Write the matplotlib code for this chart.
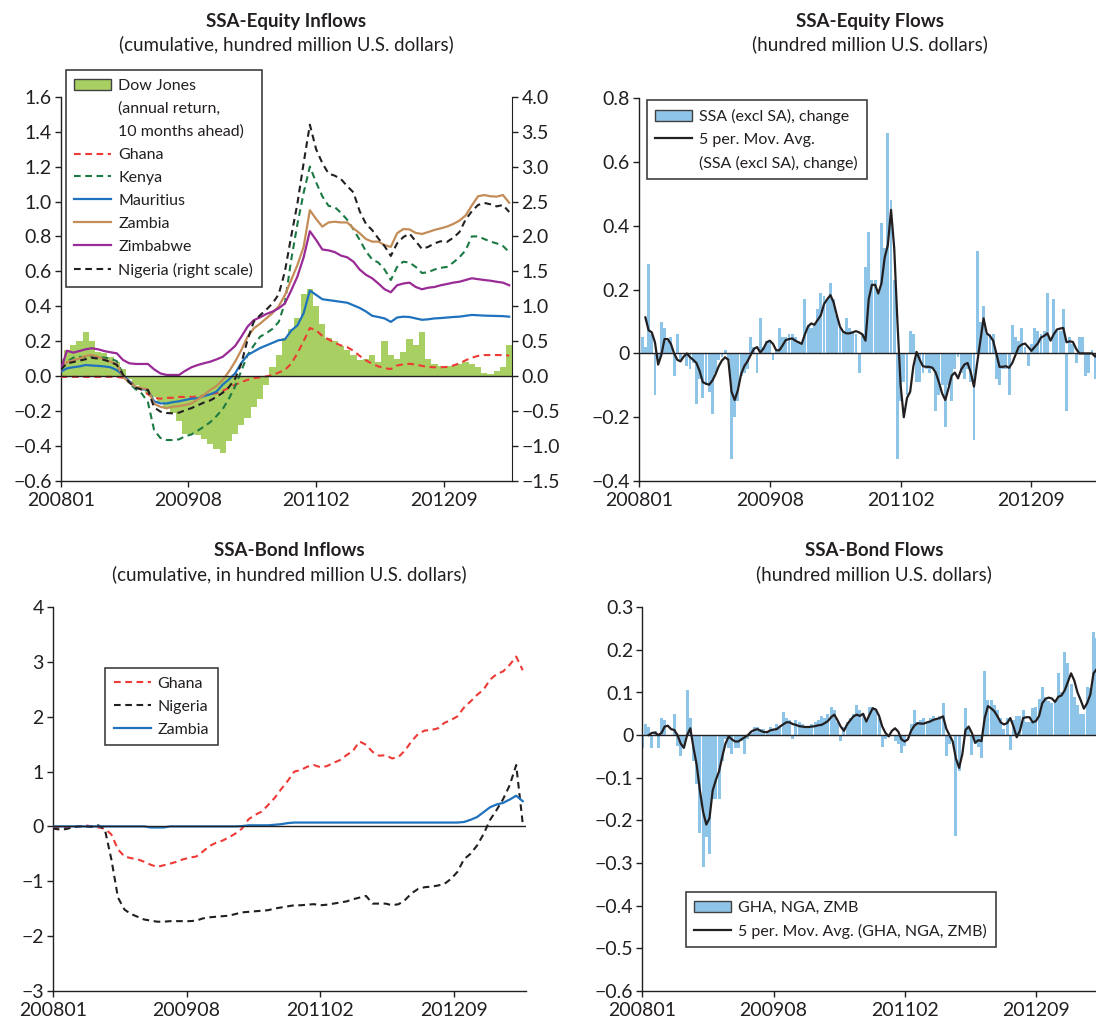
import numpy as np
import matplotlib
matplotlib.use("Agg")
import matplotlib.pyplot as plt
from matplotlib.patches import Patch
from matplotlib.lines import Line2D
from matplotlib.ticker import FuncFormatter

plt.rcParams["font.family"] = ["Lato", "DejaVu Sans"]

INK = "#231F20"
FRAME = "#404040"
DOW_GREEN = "#A8CF62"
BAR_BLUE = "#8EC4E8"
RED = "#EE3A36"
KENYA_GREEN = "#1B7A43"
MAUR_BLUE = "#1F72BD"
ZAMBIA_BROWN = "#C48D57"
ZIM_PURPLE = "#992A96"

# x axis is a weekly index (week 0 = first week of 2008)
tick_weeks = [0, 82, 164, 246]
tick_labels = ["200801", "200908", "201102", "201209"]

weeks_4 = np.arange(0, 289, 4)   # line series read every 4 weeks
weeks_2 = np.arange(0, 291, 2)   # flows and moving averages read every 2 weeks

# ---------------- SSA-Equity Inflows (cumulative) ----------------
dow_jones = [0.10, 0.15, 0.18, 0.20, 0.25, 0.20, 0.14, 0.13, 0.11, 0.08,
             0.04, -0.02, -0.05, -0.08, -0.10, -0.12, -0.15, -0.18, -0.21, -0.26,
             -0.33, -0.33, -0.34, -0.36, -0.39, -0.42, -0.44, -0.37, -0.33, -0.28,
             -0.24, -0.18, -0.13, -0.05, 0.05, 0.12, 0.22, 0.27, 0.33, 0.47,
             0.50, 0.40, 0.30, 0.22, 0.20, 0.17, 0.15, 0.12, 0.09, 0.10,
             0.12, 0.08, 0.20, 0.12, 0.10, 0.14, 0.21, 0.18, 0.25, 0.10,
             0.07, 0.06, 0.06, 0.06, 0.07, 0.08, 0.07, 0.05, 0.02, 0.01,
             0.03, 0.05, 0.18]
ghana_eq = [-0.005, -0.005, -0.005, -0.005, -0.005, -0.005, -0.005, -0.005, -0.005, -0.005,
            -0.01, -0.03, -0.055, -0.08, -0.105, -0.125, -0.13, -0.125, -0.125, -0.12,
            -0.12, -0.12, -0.118, -0.112, -0.105, -0.098, -0.085, -0.068, -0.05, -0.035,
            -0.022, -0.012, -0.008, -0.002, 0.005, 0.02, 0.035, 0.07, 0.13, 0.20,
            0.275, 0.262, 0.23, 0.21, 0.19, 0.175, 0.165, 0.145, 0.115, 0.09,
            0.07, 0.055, 0.045, 0.04, 0.06, 0.067, 0.07, 0.066, 0.058, 0.052,
            0.05, 0.05, 0.052, 0.06, 0.072, 0.09, 0.105, 0.115, 0.12, 0.12,
            0.12, 0.12, 0.117]
kenya_eq = [0.044, 0.08, 0.105, 0.11, 0.108, 0.11, 0.11, 0.105, 0.10, 0.085,
            0.01, -0.04, -0.075, -0.10, -0.15, -0.31, -0.355, -0.367, -0.367, -0.363,
            -0.345, -0.335, -0.313, -0.29, -0.265, -0.23, -0.19, -0.13, -0.06, 0.03,
            0.12, 0.175, 0.225, 0.245, 0.27, 0.31, 0.42, 0.665, 0.87, 1.05,
            1.20, 1.11, 1.03, 0.975, 0.968, 0.935, 0.895, 0.84, 0.78, 0.715,
            0.668, 0.65, 0.61, 0.55, 0.625, 0.655, 0.65, 0.625, 0.59, 0.595,
            0.61, 0.62, 0.625, 0.65, 0.68, 0.72, 0.80, 0.80, 0.785, 0.77,
            0.76, 0.745, 0.71]
mauritius_eq = [0.025, 0.044, 0.05, 0.055, 0.063, 0.06, 0.058, 0.055, 0.05, 0.034,
                0.005, -0.03, -0.065, -0.075, -0.08, -0.145, -0.157, -0.157, -0.15, -0.145,
                -0.137, -0.13, -0.128, -0.115, -0.105, -0.09, -0.05, -0.02, 0.015, 0.075,
                0.12, 0.14, 0.16, 0.175, 0.19, 0.205, 0.21, 0.26, 0.29, 0.36,
                0.49, 0.465, 0.44, 0.435, 0.43, 0.425, 0.42, 0.405, 0.39, 0.37,
                0.345, 0.338, 0.33, 0.31, 0.335, 0.34, 0.338, 0.33, 0.322, 0.325,
                0.33, 0.332, 0.335, 0.338, 0.34, 0.345, 0.35, 0.348, 0.346, 0.345,
                0.344, 0.343, 0.34]
zambia_eq = [0.04, 0.08, 0.09, 0.10, 0.115, 0.12, 0.11, 0.095, 0.082, 0.069,
             -0.004, -0.038, -0.061, -0.07, -0.076, -0.16, -0.176, -0.185, -0.176, -0.172,
             -0.166, -0.157, -0.134, -0.109, -0.08, -0.057, -0.023, 0.025, 0.082, 0.149,
             0.225, 0.273, 0.30, 0.33, 0.36, 0.40, 0.464, 0.55, 0.636, 0.74,
             0.95, 0.90, 0.856, 0.88, 0.884, 0.88, 0.88, 0.846, 0.818, 0.785,
             0.77, 0.77, 0.75, 0.74, 0.818, 0.842, 0.84, 0.82, 0.814, 0.825,
             0.837, 0.846, 0.856, 0.871, 0.89, 0.92, 0.977, 1.03, 1.037, 1.03,
             1.028, 1.037, 0.993]
zimbabwe_eq = [0.034, 0.145, 0.134, 0.143, 0.153, 0.159, 0.153, 0.143, 0.136, 0.130,
               0.092, 0.073, 0.069, 0.069, 0.069, 0.038, 0.015, 0.006, 0.006, 0.006,
               0.03, 0.05, 0.063, 0.073, 0.082, 0.095, 0.11, 0.14, 0.172, 0.225,
               0.283, 0.32, 0.336, 0.355, 0.369, 0.388, 0.416, 0.49, 0.57, 0.68,
               0.83, 0.78, 0.725, 0.72, 0.71, 0.69, 0.68, 0.655, 0.61, 0.58,
               0.56, 0.53, 0.497, 0.48, 0.52, 0.53, 0.535, 0.51, 0.497, 0.506,
               0.51, 0.52, 0.527, 0.535, 0.54, 0.55, 0.56, 0.555, 0.55, 0.546,
               0.54, 0.535, 0.52]
nigeria_eq = [0.09, 0.18, 0.20, 0.22, 0.24, 0.26, 0.25, 0.23, 0.20, 0.16,
              0.02, -0.09, -0.17, -0.19, -0.20, -0.45, -0.51, -0.53, -0.535, -0.525,
              -0.49, -0.46, -0.42, -0.38, -0.35, -0.30, -0.24, -0.16, -0.04, 0.18,
              0.52, 0.78, 0.87, 0.95, 1.04, 1.17, 1.50, 2.00, 2.47, 3.05,
              3.60, 3.25, 3.05, 2.90, 2.87, 2.82, 2.72, 2.63, 2.36, 2.18,
              2.09, 1.97, 1.86, 1.72, 1.90, 1.99, 2.04, 1.93, 1.82, 1.85,
              1.90, 1.93, 1.92, 1.98, 2.06, 2.24, 2.36, 2.45, 2.48, 2.46,
              2.43, 2.45, 2.35]

# ---------------- SSA-Equity Flows ----------------
eq_flow = [0.42, 0.05, 0.02, 0.28, 0.06, -0.13, -0.03, 0.10, 0.08, 0.04,
           0.05, -0.07, 0.06, -0.02, 0.00, -0.04, -0.05, -0.03, -0.16, -0.08,
           -0.14, -0.10, -0.12, -0.19, -0.06, -0.02, -0.01, 0.01, -0.02, -0.33,
           -0.20, -0.15, -0.07, -0.06, -0.05, 0.05, 0.02, -0.06, 0.11, 0.02,
           0.04, 0.04, -0.02, 0.01, 0.08, 0.05, 0.05, 0.06, 0.06, 0.05,
           0.04, 0.03, 0.17, 0.09, 0.08, 0.09, 0.14, 0.19, 0.18, 0.17,
           0.22, 0.17, 0.12, 0.08, 0.07, 0.11, 0.08, 0.07, 0.06, -0.06,
           0.06, 0.27, 0.38, 0.23, 0.23, 0.19, 0.41, 0.33, 0.69, 0.48,
           0.23, -0.33, -0.15, -0.09, -0.13, 0.07, 0.06, -0.09, -0.09, -0.06,
           -0.05, -0.06, -0.05, -0.18, -0.13, -0.10, -0.23, -0.10, -0.15, -0.05,
           -0.01, -0.06, -0.08, -0.05, -0.09, -0.27, 0.32, 0.10, 0.15, 0.06,
           0.06, 0.06, -0.08, -0.10, -0.05, -0.05, -0.13, 0.09, 0.05, 0.04,
           0.08, 0.02, -0.04, 0.03, 0.08, 0.07, 0.06, 0.07, 0.19, 0.00,
           0.17, 0.07, 0.07, 0.14, -0.18, 0.05, 0.03, -0.03, 0.05, 0.05,
           -0.07, -0.06, 0.01, -0.08, 0.05, -0.06]
eq_flow_ma = [np.nan, np.nan, 0.113, 0.073, 0.066, 0.035, -0.035, -0.005, 0.045, 0.045,
              0.03, 0.0, -0.02, -0.025, -0.01, 0.0, -0.012, -0.02, -0.03, -0.055,
              -0.09, -0.095, -0.098, -0.085, -0.065, -0.04, -0.022, -0.012, -0.02, -0.12,
              -0.146, -0.115, -0.065, -0.04, -0.025, -0.005, 0.014, 0.02, 0.003, 0.015,
              0.035, 0.04, 0.03, 0.01, 0.01, 0.025, 0.042, 0.045, 0.047, 0.04,
              0.035, 0.03, 0.06, 0.085, 0.094, 0.09, 0.105, 0.12, 0.155, 0.17,
              0.183, 0.16, 0.12, 0.084, 0.068, 0.063, 0.063, 0.066, 0.07, 0.066,
              0.06, 0.04, 0.17, 0.215, 0.215, 0.188, 0.22, 0.30, 0.34, 0.45,
              0.33, 0.10, -0.10, -0.20, -0.14, -0.12, -0.04, 0.005, -0.02, -0.04,
              -0.042, -0.042, -0.045, -0.06, -0.09, -0.125, -0.146, -0.11, -0.07, -0.06,
              -0.078, -0.05, -0.035, -0.03, -0.06, -0.104, -0.03, 0.04, 0.11, 0.063,
              0.055, 0.04, 0.0, -0.042, -0.042, -0.04, -0.045, -0.03, -0.005, 0.02,
              0.028, 0.031, 0.02, 0.008, 0.02, 0.031, 0.05, 0.055, 0.063, 0.04,
              0.06, 0.075, 0.078, 0.08, 0.035, 0.038, 0.036, 0.015, 0.0, 0.0,
              0.0, 0.0, 0.0, -0.01, 0.005, -0.02]

# ---------------- SSA-Bond Inflows (cumulative) ----------------
ghana_bd = [-0.02, -0.02, -0.02, -0.01, 0.0, 0.02, 0.0, -0.02, -0.04, -0.15,
            -0.42, -0.55, -0.58, -0.60, -0.645, -0.70, -0.74, -0.71, -0.68, -0.645,
            -0.60, -0.57, -0.55, -0.46, -0.36, -0.30, -0.26, -0.20, -0.13, -0.04,
            0.13, 0.21, 0.27, 0.39, 0.52, 0.68, 0.83, 1.00, 1.03, 1.09,
            1.12, 1.08, 1.10, 1.16, 1.21, 1.30, 1.38, 1.55, 1.49, 1.36,
            1.29, 1.30, 1.24, 1.27, 1.39, 1.56, 1.69, 1.75, 1.76, 1.79,
            1.89, 1.94, 2.01, 2.17, 2.28, 2.40, 2.50, 2.68, 2.78, 2.83,
            2.95, 3.10, 2.85]
nigeria_bd = [-0.04, -0.055, -0.05, -0.02, 0.0, 0.0, -0.01, 0.02, -0.06, -0.61,
              -1.30, -1.52, -1.60, -1.65, -1.70, -1.72, -1.74, -1.74, -1.73, -1.73,
              -1.73, -1.73, -1.72, -1.68, -1.66, -1.65, -1.64, -1.63, -1.60, -1.57,
              -1.56, -1.55, -1.54, -1.53, -1.50, -1.48, -1.46, -1.44, -1.44, -1.43,
              -1.42, -1.44, -1.43, -1.41, -1.39, -1.37, -1.33, -1.30, -1.27, -1.41,
              -1.41, -1.41, -1.44, -1.42, -1.34, -1.22, -1.14, -1.11, -1.10, -1.08,
              -1.05, -0.96, -0.83, -0.60, -0.50, -0.35, -0.14, 0.12, 0.30, 0.50,
              0.75, 1.12, 0.05]
zambia_bd = [0.0, 0.0, 0.0, 0.0, 0.0, 0.0, 0.0, 0.0, 0.0, 0.0,
             0.0, 0.0, 0.0, 0.0, 0.0, -0.02, -0.02, -0.02, 0.0, 0.0,
             0.0, 0.0, 0.0, 0.0, 0.0, 0.0, 0.0, 0.0, 0.0, 0.005,
             0.02, 0.02, 0.02, 0.02, 0.03, 0.04, 0.06, 0.07, 0.07, 0.07,
             0.07, 0.07, 0.07, 0.07, 0.07, 0.07, 0.07, 0.07, 0.07, 0.07,
             0.07, 0.07, 0.07, 0.07, 0.07, 0.07, 0.07, 0.07, 0.07, 0.07,
             0.07, 0.07, 0.07, 0.08, 0.12, 0.17, 0.26, 0.35, 0.40, 0.43,
             0.49, 0.56, 0.46]

# ---------------- SSA-Bond Flows ----------------
bd_flow = [-0.03, 0.025, 0.02, -0.03, 0.01, -0.03, 0.04, 0.035, 0.0, 0.0,
           0.05, -0.025, -0.05, -0.03, 0.105, 0.04, -0.06, -0.115, -0.23, -0.31,
           -0.24, -0.28, -0.15, -0.15, -0.15, -0.06, -0.01, -0.03, -0.045, -0.03,
           -0.03, -0.015, -0.045, -0.01, 0.005, 0.02, 0.02, 0.015, 0.015, 0.01,
           0.02, 0.015, 0.025, 0.02, 0.055, 0.04, 0.035, -0.01, 0.035, 0.03,
           0.025, 0.02, 0.02, 0.025, 0.03, 0.035, 0.045, 0.04, 0.05, 0.067,
           0.06, 0.03, -0.015, 0.02, 0.03, 0.04, 0.05, 0.07, 0.06, 0.05,
           0.035, 0.065, 0.065, 0.06, 0.04, -0.027, -0.008, 0.0, 0.0, -0.015,
           -0.02, -0.042, -0.025, 0.0, 0.025, 0.06, 0.03, 0.035, 0.04, 0.028,
           0.04, 0.045, 0.04, 0.045, 0.075, -0.05, -0.02, 0.0, -0.238, -0.085,
           0.0, 0.063, 0.015, -0.046, -0.02, -0.027, -0.054, 0.15, 0.083, 0.083,
           0.07, 0.06, 0.04, 0.015, 0.04, -0.034, 0.035, 0.045, 0.045, 0.06,
           0.03, 0.03, 0.063, 0.065, 0.085, 0.114, 0.09, 0.08, 0.075, 0.08,
           0.146, 0.10, 0.196, 0.17, 0.12, 0.09, 0.07, 0.05, 0.05, 0.114,
           0.11, 0.243, 0.228, 0.15, 0.19, 0.12]
bd_flow_ma = [np.nan, np.nan, 0.0, 0.005, 0.006, 0.0, 0.005, 0.02, 0.022, 0.014,
              0.012, 0.0, -0.02, -0.03, 0.0, 0.016, -0.03, -0.07, -0.13, -0.18,
              -0.21, -0.195, -0.13, -0.105, -0.085, -0.05, -0.02, -0.003, -0.01, -0.015,
              -0.015, -0.01, -0.005, 0.0, 0.008, 0.012, 0.014, 0.01, 0.007, 0.007,
              0.011, 0.013, 0.014, 0.02, 0.025, 0.03, 0.03, 0.026, 0.024, 0.021,
              0.02, 0.019, 0.019, 0.02, 0.021, 0.023, 0.024, 0.028, 0.033, 0.042,
              0.048, 0.035, 0.02, 0.01, 0.025, 0.035, 0.044, 0.048, 0.045, 0.05,
              0.032, 0.048, 0.063, 0.06, 0.045, 0.02, 0.005, -0.003, 0.01, 0.016,
              0.008, -0.01, -0.015, -0.01, 0.01, 0.022, 0.028, 0.027, 0.027, 0.03,
              0.032, 0.036, 0.038, 0.04, 0.044, 0.015, 0.0, -0.015, -0.055, -0.077,
              -0.045, 0.012, 0.02, 0.005, -0.018, -0.012, -0.014, 0.04, 0.068, 0.063,
              0.056, 0.044, 0.03, 0.025, 0.028, 0.04, 0.02, -0.005, 0.01, 0.04,
              0.042, 0.042, 0.03, 0.033, 0.045, 0.075, 0.085, 0.088, 0.086, 0.078,
              0.09, 0.093, 0.105, 0.125, 0.145, 0.128, 0.10, 0.082, 0.062, 0.075,
              0.095, 0.145, 0.155, 0.155, 0.16, 0.155]

FIG_W, FIG_H = 1096, 1021
fig = plt.figure(figsize=(FIG_W / 100, FIG_H / 100), dpi=100)

TICK_SIZE = 14
TITLE_SIZE = 13.5
LEGEND_SIZE = 11.5


def px_axes(left, top, right, bottom):
    return fig.add_axes([left / FIG_W, (FIG_H - bottom) / FIG_H,
                         (right - left) / FIG_W, (bottom - top) / FIG_H])


def minus(s):
    return s.replace("-", "\u2212")


fmt_1 = FuncFormatter(lambda v, p: minus(f"{v:.1f}"))
fmt_0 = FuncFormatter(lambda v, p: "0" if abs(v) < 1e-9 else minus(f"{v:.1f}"))
fmt_int = FuncFormatter(lambda v, p: minus(f"{int(round(v))}"))


def style(ax, ylim, yticks, fmt):
    ax.set_xlim(0, 290)
    ax.set_ylim(*ylim)
    ax.set_yticks(yticks)
    ax.yaxis.set_major_formatter(fmt)
    ax.set_xticks(tick_weeks)
    ax.set_xticklabels(tick_labels)
    ax.spines["top"].set_visible(False)
    ax.spines["right"].set_visible(False)
    for s in ("left", "bottom"):
        ax.spines[s].set_color(INK)
        ax.spines[s].set_linewidth(1.0)
    ax.tick_params(direction="out", length=4, width=1, color=INK,
                   labelcolor=INK, labelsize=TICK_SIZE, pad=2.5)
    ax.tick_params(axis="x", pad=4)
    ax.axhline(0, color=INK, lw=1.0, zorder=4)


def titles(ax, y_px, title, sub):
    bb = ax.get_position()
    xc = (bb.x0 + bb.x1) / 2
    fig.text(xc, 1 - y_px / FIG_H, title, ha="center", va="center",
             fontsize=TITLE_SIZE, fontweight="bold", color=INK)
    fig.text(xc, 1 - (y_px + 23) / FIG_H, sub, ha="center", va="center",
             fontsize=TITLE_SIZE, color=INK)


def add_legend(ax, handles, labels, anchor):
    leg = ax.legend(handles, labels, loc="upper left", bbox_to_anchor=anchor,
                    borderaxespad=0, fancybox=False, framealpha=1,
                    edgecolor=FRAME, fontsize=LEGEND_SIZE, handlelength=2.3,
                    handletextpad=0.45, labelspacing=0.55, borderpad=0.55)
    leg.get_frame().set_linewidth(1.2)
    for t in leg.get_texts():
        t.set_color(INK)
    return leg


DASH = (0, (3.2, 2.2))
blank = Line2D([], [], color="none")

# ---- panel 1: equity inflows ----
ax1 = px_axes(60.7, 96.8, 512.3, 480.7)
ax1.bar(weeks_4, dow_jones, width=4, color=DOW_GREEN, lw=0, zorder=1)
ax1.plot(weeks_4, ghana_eq, color=RED, lw=1.5, ls=DASH, zorder=3)
ax1.plot(weeks_4, kenya_eq, color=KENYA_GREEN, lw=1.5, ls=DASH, zorder=3)
ax1.plot(weeks_4, mauritius_eq, color=MAUR_BLUE, lw=1.6, zorder=3)
ax1.plot(weeks_4, zambia_eq, color=ZAMBIA_BROWN, lw=1.6, zorder=3)
ax1.plot(weeks_4, zimbabwe_eq, color=ZIM_PURPLE, lw=1.6, zorder=3)
style(ax1, (-0.6, 1.6), [-0.6, -0.4, -0.2, 0.0, 0.2, 0.4, 0.6, 0.8, 1.0, 1.2, 1.4, 1.6], fmt_1)

ax1r = ax1.twinx()
ax1r.plot(weeks_4, nigeria_eq, color=INK, lw=1.5, ls=DASH, zorder=3)
ax1r.set_ylim(-1.5, 4.0)
ax1r.set_yticks([-1.5, -1.0, -0.5, 0.0, 0.5, 1.0, 1.5, 2.0, 2.5, 3.0, 3.5, 4.0])
ax1r.yaxis.set_major_formatter(fmt_1)
for s in ("top", "left", "bottom"):
    ax1r.spines[s].set_visible(False)
ax1r.spines["right"].set_color(INK)
ax1r.tick_params(direction="out", length=4, width=1, color=INK,
                 labelcolor=INK, labelsize=TICK_SIZE, pad=2.5)
titles(ax1, 21.5, "SSA-Equity Inflows", "(cumulative, hundred million U.S. dollars)")

h1 = [Patch(facecolor=DOW_GREEN, edgecolor=FRAME, lw=1), blank, blank,
      Line2D([], [], color=RED, lw=1.5, ls=DASH),
      Line2D([], [], color=KENYA_GREEN, lw=1.5, ls=DASH),
      Line2D([], [], color=MAUR_BLUE, lw=1.6),
      Line2D([], [], color=ZAMBIA_BROWN, lw=1.6),
      Line2D([], [], color=ZIM_PURPLE, lw=1.6),
      Line2D([], [], color=INK, lw=1.5, ls=DASH)]
l1 = ["Dow Jones", "(annual return,", "10 months ahead)", "Ghana", "Kenya",
      "Mauritius", "Zambia", "Zimbabwe", "Nigeria (right scale)"]
add_legend(ax1r, h1, l1, (0.011, 1.07))

# ---- panel 2: equity flows ----
ax2 = px_axes(639.0, 98.3, 1101.6, 481.0)
ax2.bar(weeks_2, eq_flow, width=1.8, color=BAR_BLUE, lw=0, zorder=1)
ax2.plot(weeks_2, eq_flow_ma, color=INK, lw=1.6, zorder=3)
style(ax2, (-0.4, 0.8), [-0.4, -0.2, 0.0, 0.2, 0.4, 0.6, 0.8], fmt_0)
titles(ax2, 21.5, "SSA-Equity Flows", "(hundred million U.S. dollars)")
h2 = [Patch(facecolor=BAR_BLUE, edgecolor=FRAME, lw=1),
      Line2D([], [], color=INK, lw=1.6), blank]
l2 = ["SSA (excl SA), change", "5 per. Mov. Avg.", "(SSA (excl SA), change)"]
add_legend(ax2, h2, l2, (0.0166, 0.9955))

# ---- panel 3: bond inflows ----
ax3 = px_axes(52.7, 607.3, 526.0, 990.7)
ax3.plot(weeks_4, ghana_bd, color=RED, lw=1.5, ls=DASH, zorder=3)
ax3.plot(weeks_4, nigeria_bd, color=INK, lw=1.5, ls=DASH, zorder=3)
ax3.plot(weeks_4, zambia_bd, color=MAUR_BLUE, lw=1.6, zorder=3)
style(ax3, (-3, 4), [-3, -2, -1, 0, 1, 2, 3, 4], fmt_int)
titles(ax3, 551, "SSA-Bond Inflows", "(cumulative, in hundred million U.S. dollars)")
h3 = [Line2D([], [], color=RED, lw=1.5, ls=DASH),
      Line2D([], [], color=INK, lw=1.5, ls=DASH),
      Line2D([], [], color=MAUR_BLUE, lw=1.6)]
add_legend(ax3, h3, ["Ghana", "Nigeria", "Zambia"], (0.1105, 0.8425))

# ---- panel 4: bond flows ----
ax4 = px_axes(642.3, 607.3, 1106.3, 990.7)
ax4.bar(weeks_2, bd_flow, width=1.8, color=BAR_BLUE, lw=0, zorder=1)
ax4.plot(weeks_2, bd_flow_ma, color=INK, lw=1.6, zorder=3)
style(ax4, (-0.6, 0.3), [-0.6, -0.5, -0.4, -0.3, -0.2, -0.1, 0.0, 0.1, 0.2, 0.3], fmt_0)
titles(ax4, 551, "SSA-Bond Flows", "(hundred million U.S. dollars)")
h4 = [Patch(facecolor=BAR_BLUE, edgecolor=FRAME, lw=1),
      Line2D([], [], color=INK, lw=1.6)]
add_legend(ax4, h4, ["GHA, NGA, ZMB", "5 per. Mov. Avg. (GHA, NGA, ZMB)"], (0.0935, 0.258))

fig.savefig("out.png", dpi=100)
